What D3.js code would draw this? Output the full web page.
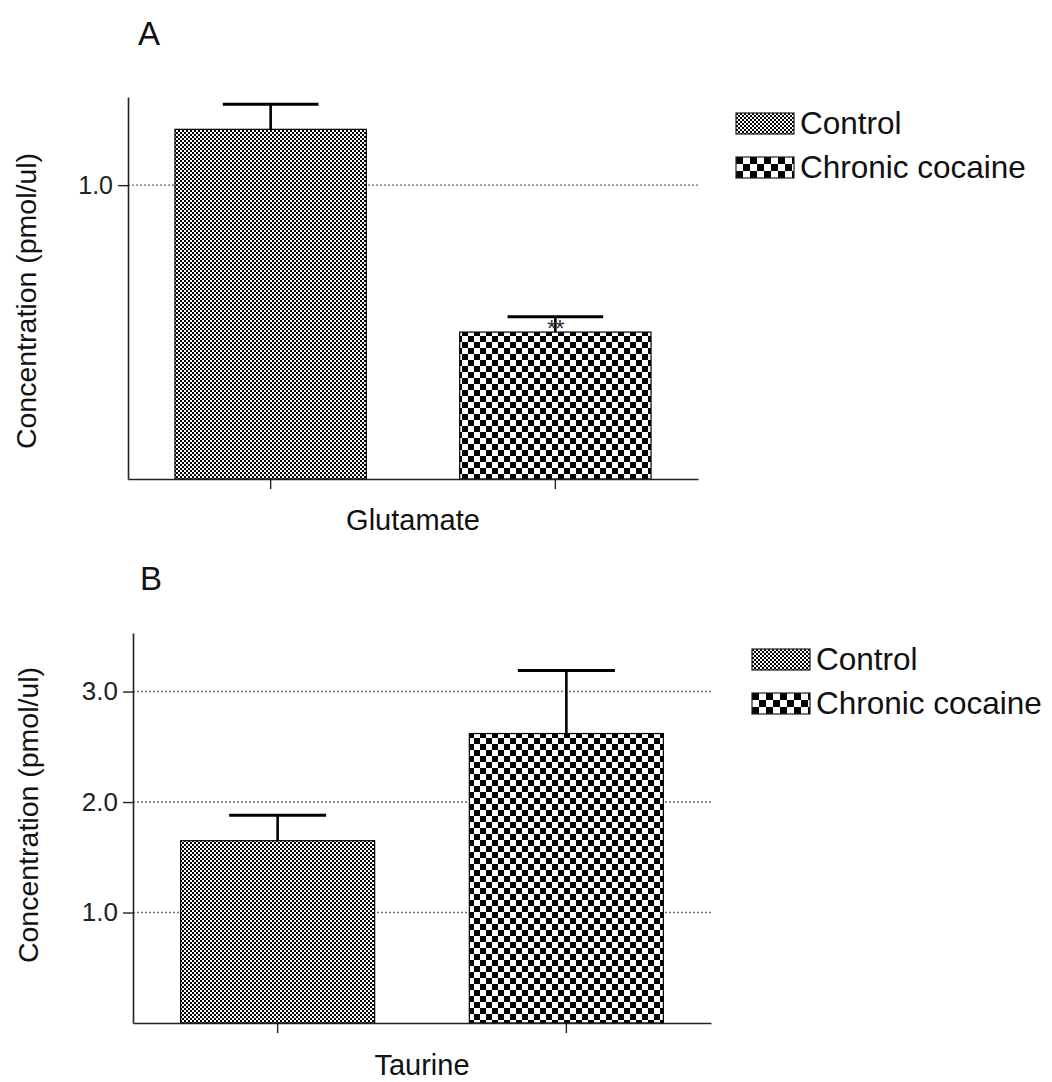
<!DOCTYPE html>
<html>
<head>
<meta charset="utf-8">
<script src="https://cdn.jsdelivr.net/npm/d3@7"></script>
<style>
  html, body { margin: 0; padding: 0; background: #fff; }
  svg { display: block; font-family: "Liberation Sans", Arial, Helvetica, sans-serif; }
</style>
</head>
<body>
<svg id="fig" width="1052" height="1082"></svg>
<script>
// Treatment groups (bar order and legend order)
const groups = ["Control", "Chronic cocaine"];

// Panel A: glutamate concentration, mean and SEM (pmol/ul)
const glutamateMean = [1.19, 0.50];
const glutamateSem = [0.085, 0.052];
const glutamateTicks = [1.0];
const glutamateMax = 1.3;
const glutamateStars = ["", "**"];

// Panel B: taurine concentration, mean and SEM (pmol/ul)
const taurineMean = [1.65, 2.62];
const taurineSem = [0.23, 0.57];
const taurineTicks = [1.0, 2.0, 3.0];
const taurineMax = 3.53;
const taurineStars = ["", ""];

const yTitle = "Concentration (pmol/ul)";

const svg = d3.select("#fig");
const defs = svg.append("defs");

// Checkerboard fills: fine grey-looking one for Control, coarse one for Chronic cocaine
function checker(id, cell) {
  const p = defs.append("pattern")
    .attr("id", id)
    .attr("patternUnits", "userSpaceOnUse")
    .attr("width", cell * 2)
    .attr("height", cell * 2);
  p.append("rect").attr("width", cell * 2).attr("height", cell * 2).attr("fill", "#fff");
  p.append("rect").attr("x", 0).attr("y", 0).attr("width", cell).attr("height", cell).attr("fill", "#000");
  p.append("rect").attr("x", cell).attr("y", cell).attr("width", cell).attr("height", cell).attr("fill", "#000");
}
checker("fineBar", 2);
checker("coarseBar", 6);
checker("fineKey", 2);
checker("coarseKey", 7);
const barFill = ["url(#fineBar)", "url(#coarseBar)"];
const keyFill = ["url(#fineKey)", "url(#coarseKey)"];

function panel(cfg) {
  const g = svg.append("g");

  const x = d3.scaleBand()
    .domain(groups)
    .range(cfg.xRange)
    .paddingInner(0.328)
    .paddingOuter(0.165);

  const y = d3.scaleLinear()
    .domain([0, cfg.max])
    .range(cfg.yRange);

  // dotted reference lines at each labelled tick
  g.append("g").selectAll("line")
    .data(cfg.ticks)
    .join("line")
    .attr("x1", cfg.xRange[0])
    .attr("x2", cfg.xRange[1])
    .attr("y1", d => y(d))
    .attr("y2", d => y(d))
    .attr("stroke", "#6a6a6a")
    .attr("stroke-width", 1.4)
    .attr("stroke-dasharray", "2,2");

  // bars
  g.append("g").selectAll("rect")
    .data(groups)
    .join("rect")
    .attr("x", d => x(d))
    .attr("y", (d, i) => y(cfg.mean[i]))
    .attr("width", x.bandwidth())
    .attr("height", (d, i) => y(0) - y(cfg.mean[i]))
    .attr("fill", (d, i) => barFill[i])
    .attr("stroke", "#000")
    .attr("stroke-width", 1.2);

  // SEM whiskers (upper only)
  const eb = g.append("g").selectAll("g")
    .data(groups)
    .join("g");
  eb.append("line")
    .attr("x1", d => x(d) + x.bandwidth() / 2)
    .attr("x2", d => x(d) + x.bandwidth() / 2)
    .attr("y1", (d, i) => y(cfg.mean[i]))
    .attr("y2", (d, i) => y(cfg.mean[i] + cfg.sem[i]))
    .attr("stroke", "#000")
    .attr("stroke-width", 2.6);
  eb.append("line")
    .attr("x1", d => x(d) + x.bandwidth() / 4)
    .attr("x2", d => x(d) + x.bandwidth() * 3 / 4)
    .attr("y1", (d, i) => y(cfg.mean[i] + cfg.sem[i]))
    .attr("y2", (d, i) => y(cfg.mean[i] + cfg.sem[i]))
    .attr("stroke", "#000")
    .attr("stroke-width", 3);

  // significance marks
  g.append("g").selectAll("text")
    .data(groups)
    .join("text")
    .attr("x", d => x(d) + x.bandwidth() / 2)
    .attr("y", (d, i) => y(cfg.mean[i]) + 5)
    .attr("text-anchor", "middle")
    .attr("font-size", 24)
    .attr("letter-spacing", -1)
    .attr("fill", "#333")
    .text((d, i) => cfg.stars[i]);

  // axes
  const yAxis = g.append("g")
    .attr("transform", `translate(${cfg.xRange[0]},0)`)
    .call(d3.axisLeft(y)
      .tickValues(cfg.ticks)
      .tickFormat(d3.format(".1f"))
      .tickSize(10)
      .tickSizeOuter(0)
      .tickPadding(5));
  yAxis.selectAll("text").attr("font-size", cfg.tickFont).attr("fill", "#222");

  const xAxis = g.append("g")
    .attr("transform", `translate(0,${cfg.yRange[0]})`)
    .call(d3.axisBottom(x).tickSize(10).tickSizeOuter(0).tickFormat(""));

  [yAxis, xAxis].forEach(a => {
    a.select(".domain").attr("stroke", "#222").attr("stroke-width", 1.6);
    a.selectAll(".tick line").attr("stroke", "#222").attr("stroke-width", 1.4);
  });

  // category label under the x axis
  g.append("text")
    .attr("x", (cfg.xRange[0] + cfg.xRange[1]) / 2)
    .attr("y", cfg.xLabelY)
    .attr("text-anchor", "middle")
    .attr("font-size", 29)
    .attr("fill", "#111")
    .text(cfg.category);

  // y title
  g.append("text")
    .attr("transform", `translate(${cfg.yTitleX},${(cfg.yRange[0] + cfg.yRange[1]) / 2 + cfg.yTitleShift}) rotate(-90)`)
    .attr("text-anchor", "middle")
    .attr("font-size", 28.5)
    .attr("fill", "#111")
    .text(yTitle);

  // panel letter
  g.append("text")
    .attr("x", cfg.letterPos[0])
    .attr("y", cfg.letterPos[1])
    .attr("font-size", 33)
    .attr("fill", "#111")
    .text(cfg.letter);

  // legend
  const lg = g.append("g")
    .attr("transform", `translate(${cfg.legendPos[0]},${cfg.legendPos[1]})`);
  const item = lg.selectAll("g")
    .data(groups)
    .join("g")
    .attr("transform", (d, i) => `translate(0,${i * 44})`);
  item.append("rect")
    .attr("width", 58)
    .attr("height", 21)
    .attr("fill", (d, i) => keyFill[i])
    .attr("stroke", "#222")
    .attr("stroke-width", 1.2);
  item.append("text")
    .attr("x", 64)
    .attr("y", 21)
    .attr("font-size", 31.5)
    .attr("fill", "#111")
    .text(d => d);
}

panel({
  letter: "A", letterPos: [138, 45],
  category: "Glutamate", xLabelY: 530,
  mean: glutamateMean, sem: glutamateSem, ticks: glutamateTicks, max: glutamateMax, stars: glutamateStars,
  xRange: [128, 698], yRange: [479, 97],
  tickFont: 25, yTitleX: 36, yTitleShift: 13,
  legendPos: [736, 113]
});

panel({
  letter: "B", letterPos: [140, 590],
  category: "Taurine", xLabelY: 1075,
  mean: taurineMean, sem: taurineSem, ticks: taurineTicks, max: taurineMax, stars: taurineStars,
  xRange: [133, 711], yRange: [1023, 633],
  tickFont: 26, yTitleX: 38, yTitleShift: -13,
  legendPos: [752, 649]
});
</script>
</body>
</html>
